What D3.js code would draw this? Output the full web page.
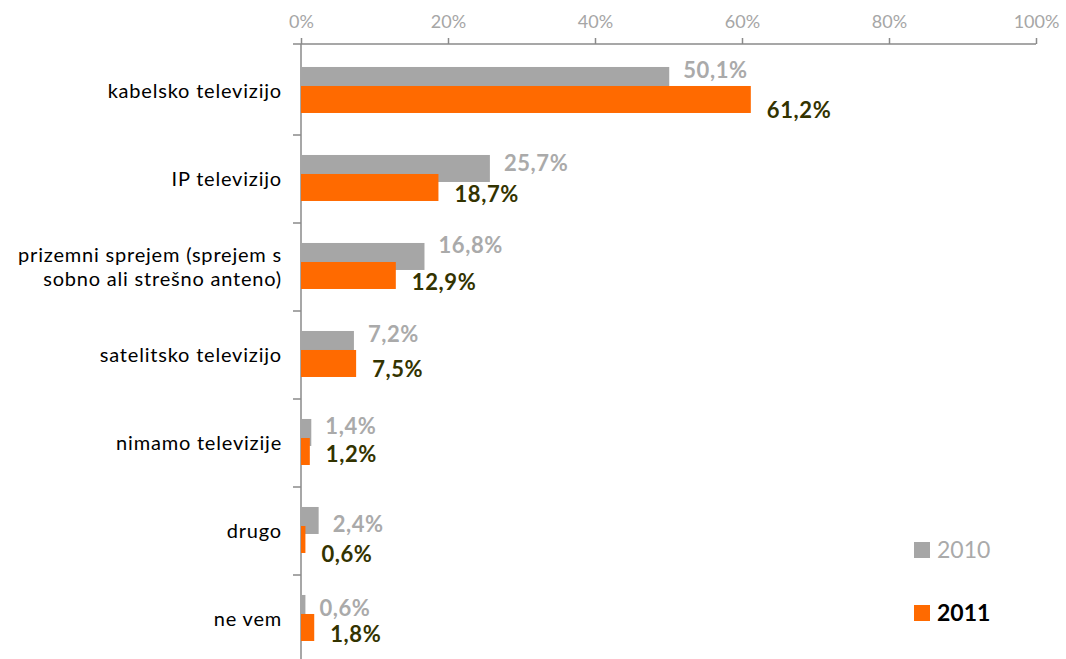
<!DOCTYPE html>
<html><head><meta charset="utf-8">
<script src="https://cdn.jsdelivr.net/npm/d3@7"></script>
<style>body{margin:0;background:#fff}svg{display:block}</style>
</head><body>
<svg id="c" width="1066" height="659"></svg>
<script>
const categories = ["kabelsko televizijo","IP televizijo","prizemni sprejem (sprejem s|sobno ali strešno anteno)","satelitsko televizijo","nimamo televizije","drugo","ne vem"];
const values2010 = [50.1,25.7,16.8,7.2,1.4,2.4,0.6];
const values2011 = [61.2,18.7,12.9,7.5,1.2,0.6,1.8];
const xTicks = [0,20,40,60,80,100];
const seriesNames = ["2010","2011"];
// label vertical nudges (layout only)
const nudge2010 = [31,36,30,31,35,45,41];
const nudge2011 = [71,67,67,66,63,75,67];

const svg = d3.select("#c");
const FONT = "Lato, 'Open Sans', sans-serif";
const x = d3.scaleLinear().domain([0,100]).range([301,1036]);
const y = d3.scaleBand().domain(categories).range([47,663]);
const bw = y.bandwidth();
const fmt = v => d3.format(".1f")(v).replace(".", ",") + "%";
const GRAY = "#a6a6a6", ORANGE = "#ff6a00", OLIVE = "#333300";

// top axis
const ax = svg.append("g").attr("transform","translate(0,44)")
  .call(d3.axisTop(x).tickValues(xTicks).tickSize(6).tickPadding(10).tickFormat(d=>d+"%"));
ax.select(".domain").attr("stroke","#8a8a8a").attr("stroke-width",1.5).attr("d","M293,0H1036");
ax.selectAll(".tick line").attr("stroke","#8a8a8a").attr("stroke-width",1.5);
ax.selectAll(".tick text").attr("fill","#a6a6a6").attr("font-family",FONT).attr("font-size",18);

// left axis
svg.append("line").attr("x1",301).attr("x2",301).attr("y1",44).attr("y2",659)
  .attr("stroke","#8a8a8a").attr("stroke-width",1.5);
categories.slice(1).forEach(c=>{
  svg.append("line").attr("x1",293).attr("x2",301).attr("y1",y(c)).attr("y2",y(c))
    .attr("stroke","#8a8a8a").attr("stroke-width",1.5);
});

// category labels
categories.forEach(c=>{
  const lines = c.split("|");
  const cy = y(c)+bw/2;
  const t = svg.append("text").attr("text-anchor","end").attr("font-family",FONT)
    .attr("font-size",20).attr("letter-spacing","0.8px").attr("fill","#000");
  lines.forEach((l,i)=>{
    t.append("tspan").attr("x",282).attr("y",cy + (i-(lines.length-1)/2)*24)
      .attr("dy","0.35em").text(l);
  });
});

// bars
const g = svg.append("g");
categories.forEach((c,i)=>{
  g.append("rect").attr("x",x(0)).attr("y",y(c)+bw*0.227).attr("height",27)
    .attr("width",x(values2010[i])-x(0)).attr("fill",GRAY);
  g.append("rect").attr("x",x(0)).attr("y",y(c)+bw*0.443).attr("height",27)
    .attr("width",x(values2011[i])-x(0)).attr("fill",ORANGE);
});
// labels
categories.forEach((c,i)=>{
  svg.append("text").attr("x",x(values2010[i])+14).attr("y",y(c)+nudge2010[i])
    .attr("font-family",FONT).attr("font-weight","bold").attr("font-size",22).attr("letter-spacing","0.6px")
    .attr("fill","#aaaaaa").text(fmt(values2010[i]));
  svg.append("text").attr("x",x(values2011[i])+16).attr("y",y(c)+nudge2011[i])
    .attr("font-family",FONT).attr("font-weight","bold").attr("font-size",22).attr("letter-spacing","0.6px")
    .attr("fill",OLIVE).text(fmt(values2011[i]));
});

// legend
const leg = [{n:seriesNames[0],c:GRAY,tc:"#aaaaaa",w:"normal",y:550},{n:seriesNames[1],c:ORANGE,tc:"#000",w:"bold",y:613}];
leg.forEach(l=>{
  svg.append("rect").attr("x",914).attr("y",l.y-8).attr("width",16).attr("height",16).attr("fill",l.c);
  svg.append("text").attr("x",937).attr("y",l.y).attr("dy","0.35em").attr("font-family",FONT)
    .attr("font-size",23).attr("font-weight",l.w).attr("fill",l.tc).text(l.n);
});
</script>
</body></html>
